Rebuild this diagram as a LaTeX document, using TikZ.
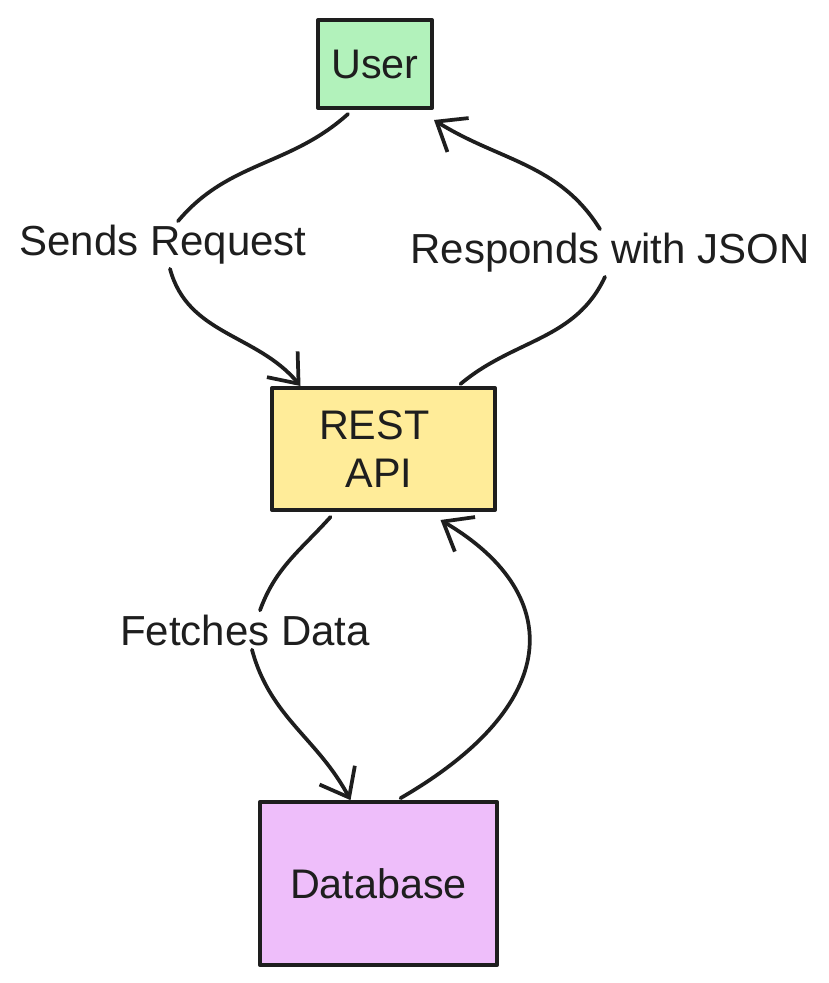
\documentclass[tikz,border=0pt]{standalone}
\usepackage{fontspec}
\setmainfont{Liberation Sans}
\usetikzlibrary{arrows.meta,calc}
\definecolor{ink}{HTML}{1E1E1E}
\definecolor{usergreen}{HTML}{B2F2BB}
\definecolor{apiyellow}{HTML}{FFEC99}
\definecolor{dbpurple}{HTML}{EEBEFA}
\tikzset{
  box/.style={draw=ink, line width=3pt, line join=round, inner sep=0pt,
    font=\fontsize{31}{36}\selectfont, text=ink},
  elabel/.style={fill=white, inner sep=3pt, font=\fontsize{31.5}{36}\selectfont, text=ink},
  conn/.style={draw=ink, line width=2.8pt, line cap=round},
  tip/.style={-{Straight Barb[length=19pt,width=30pt,line width=2.8pt]}}
}
\begin{document}
\begin{tikzpicture}[x=0.75pt,y=0.75pt]
\useasboundingbox[fill=white] (0,0) rectangle (829,-983);
% boxes
\node[box, fill=usergreen, minimum width=85.5pt, minimum height=66pt] (user) at (375,-64) {User};
\node[box, fill=apiyellow, minimum width=167pt, minimum height=91.5pt, align=left] (api) at (383.5,-449) {REST\hspace*{14pt}\\\hspace*{20pt}API};
\node[box, fill=dbpurple, minimum width=178pt, minimum height=122pt] (db) at (378.5,-883.5) {Database};
% labels
\node[elabel] (sr) at (163,-245) {Sends Request};
\node[elabel] (rj) at (610,-253) {Responds with JSON};
\node[elabel] (fd) at (245,-630) {Fetches Data};
% User -> API
\draw[conn] ($(user.south)+(-27,-4)$) to[out=222,in=50] ($(sr.north)+(15,0)$);
\draw[conn,tip] ($(sr.south)+(7,0)$) to[out=285,in=130] ($(api.north)+(-83,0)$);
% API -> User
\draw[conn] ($(api.north)+(77,2)$) to[out=40,in=245] ($(rj.south)+(-5,0)$);
\draw[conn,tip] ($(rj.north)+(-10,0)$) to[out=122,in=-32] ($(user.south east)+(0,-10)$);
% API -> DB
\draw[conn] ($(api.south)+(-53,-5)$) to[out=228,in=70] ($(fd.north)+(15,0)$);
\draw[conn,tip] ($(fd.south)+(7,0)$) to[out=285,in=118] ($(db.north)+(-28,0)$);
% DB -> API
\draw[conn,tip] ($(db.north)+(22,2)$) .. controls (570,-700) and (560,-590) .. ($(api.south)+(57,-8)$);
\end{tikzpicture}
\end{document}
